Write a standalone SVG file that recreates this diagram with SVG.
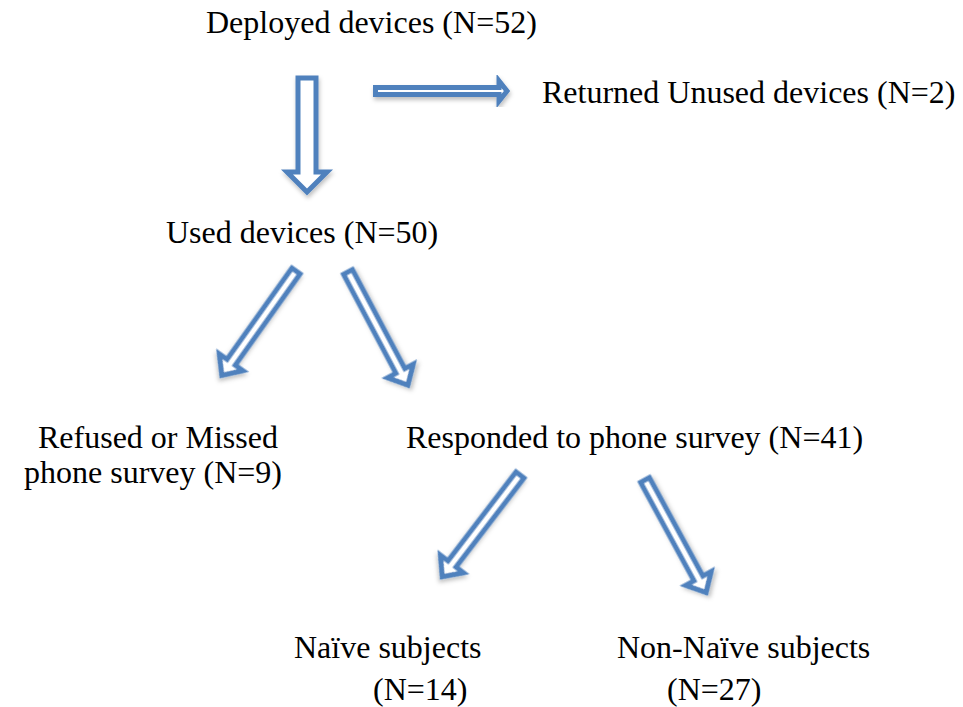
<svg xmlns="http://www.w3.org/2000/svg" width="963" height="707" viewBox="0 0 963 707">
<defs>
<filter id="sh" x="-30%" y="-30%" width="160%" height="160%">
<feDropShadow dx="1" dy="3" stdDeviation="2" flood-color="#000" flood-opacity="0.25"/>
</filter>
<polygon id="diag" points="-5,0 5,0 5,112 14.5,112 0,128 -14.5,112 -5,112"/>
</defs>
<style>
text{font-family:"Liberation Serif","Times New Roman",serif;font-size:32px;fill:#000}
.ar{fill:#fff;stroke:#4F81BD;stroke-width:5;stroke-linejoin:miter;filter:url(#sh)}
</style>
<rect width="963" height="707" fill="#fff"/>
<g id="connectors">
<polygon class="ar" points="298,78 316,78 316,172 327,172 307,192 287,172 298,172"/>
<polygon class="ar" points="375.5,87.5 499,87.5 499,81 507,91 499,101 499,94.5 375.5,94.5"/>
<use class="ar" href="#diag" transform="translate(296,271) rotate(35.4)"/>
<use class="ar" href="#diag" transform="translate(348,272) rotate(-27.9)"/>
<use class="ar" href="#diag" transform="translate(520,475) rotate(37.4)"/>
<use class="ar" href="#diag" transform="translate(645,480) rotate(-28.5)"/>
</g>
<g id="deployed"><text x="206" y="33">Deployed devices (N=52)</text></g>
<g id="returned"><text x="542" y="103">Returned Unused devices (N=2)</text></g>
<g id="used"><text x="166" y="243">Used devices (N=50)</text></g>
<g id="refused"><text x="38" y="448">Refused or Missed</text><text x="24" y="483">phone survey (N=9)</text></g>
<g id="responded"><text x="406" y="448">Responded to phone survey (N=41)</text></g>
<g id="naive"><text x="294" y="658">Naïve subjects</text><text x="373" y="700">(N=14)</text></g>
<g id="nonnaive"><text x="617" y="658">Non-Naïve subjects</text><text x="667" y="700">(N=27)</text></g>
</svg>
